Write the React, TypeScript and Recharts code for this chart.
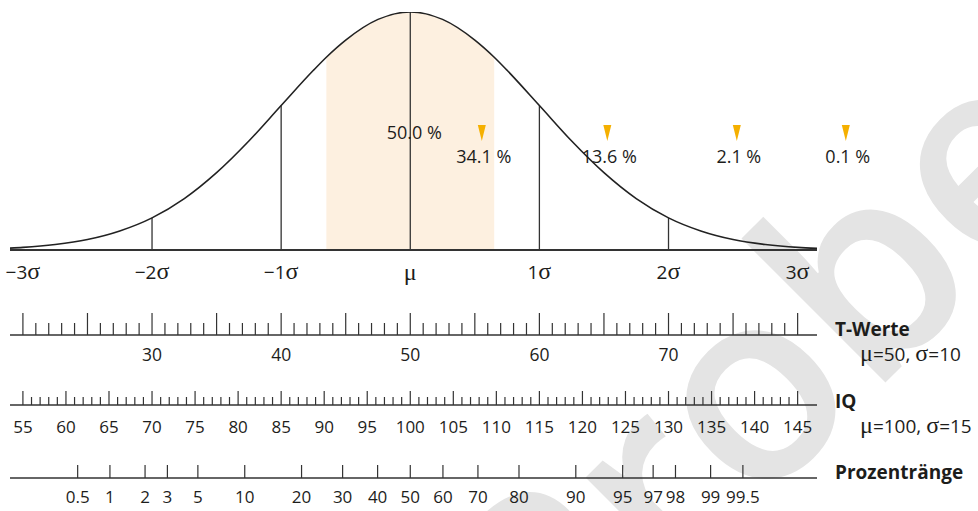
import React from 'react';
import { ComposedChart, Area, Line, XAxis, YAxis, ReferenceLine, ReferenceDot } from 'recharts';

// ---- data ----
// normal curve: position in σ units and relative height (peak = 1)
const CURVE_Z = [-3.1, -3, -2.75, -2.5, -2.25, -2, -1.75, -1.5, -1.25, -1, -0.75, -0.65, -0.5, -0.25, 0, 0.25, 0.5, 0.65, 0.75, 1, 1.25, 1.5, 1.75, 2, 2.25, 2.5, 2.75, 3, 3.15];
const CURVE_H = [0.008, 0.011, 0.023, 0.044, 0.08, 0.135, 0.216, 0.325, 0.458, 0.607, 0.755, 0.81, 0.882, 0.969, 1, 0.969, 0.882, 0.81, 0.755, 0.607, 0.458, 0.325, 0.216, 0.135, 0.08, 0.044, 0.023, 0.011, 0.007];
// shaded middle band
const BAND_FROM = -0.65;
const BAND_TO = 0.65;
// vertical lines under the curve
const SIGMA_LINES = [-2, -1, 0, 1, 2];
// σ axis
const SIGMA_TICKS = [-3, -2, -1, 0, 1, 2, 3];
const SIGMA_LABELS = ['\u22123', '\u22122', '\u22121', 'μ', '1', '2', '3'];
// area percentages
const CENTER_LABEL = '50.0 %';
const PCT_Z = [0.554, 1.526, 2.529, 3.373];
const PCT_LABELS = ['34.1 %', '13.6 %', '2.1 %', '0.1 %'];
// T-Werte
const T_MIN = 20;
const T_MAX = 80;
const T_LABELS = [30, 40, 50, 60, 70];
// IQ
const IQ_MIN = 55;
const IQ_MAX = 145;
const IQ_LABELS = [55, 60, 65, 70, 75, 80, 85, 90, 95, 100, 105, 110, 115, 120, 125, 130, 135, 140, 145];
// Prozentränge: tick position (σ units) and label
const PR_Z = [-2.576, -2.326, -2.054, -1.881, -1.645, -1.282, -0.842, -0.524, -0.253, 0, 0.253, 0.524, 0.842, 1.282, 1.645, 1.881, 2.054, 2.326, 2.576];
const PR_LABELS = ['0.5', '1', '2', '3', '5', '10', '20', '30', '40', '50', '60', '70', '80', '90', '95', '97', '98', '99', '99.5'];

// ---- derived tables ----
const curveData = CURVE_Z.map((z, i) => ({ z, h: CURVE_H[i] }));
const bandData = curveData.filter((d) => d.z >= BAND_FROM - 1e-9 && d.z <= BAND_TO + 1e-9);
const heightAt = (z: number) => curveData.find((d) => Math.abs(d.z - z) < 1e-9)?.h ?? 0;
const range = (a: number, b: number) => Array.from({ length: b - a + 1 }, (_, i) => a + i);
const T_TICKS = range(T_MIN, T_MAX);
const IQ_TICKS = range(IQ_MIN, IQ_MAX);
const tData = T_TICKS.map((t) => ({ t, v: 0 }));
const iqData = IQ_TICKS.map((q) => ({ q, v: 0 }));
const prData = PR_Z.map((p) => ({ p, v: 0 }));

// ---- styles ----
const SANS = "'Open Sans', 'Noto Sans', sans-serif";
const SERIF = "'Liberation Serif', 'DejaVu Serif', serif";
const INK = '#1d1d1b';
const LINE = '#333333';
const BAND = '#fdf0e0';
const MARK = '#f5b000';
const Z_DOMAIN: [number, number] = [-3.1, 3.15];
const T_DOMAIN: [number, number] = [50 + 10 * Z_DOMAIN[0], 50 + 10 * Z_DOMAIN[1]];
const IQ_DOMAIN: [number, number] = [100 + 15 * Z_DOMAIN[0], 100 + 15 * Z_DOMAIN[1]];

const SigmaTick = (p: any) => {
  const i = SIGMA_TICKS.indexOf(p.payload.value);
  const lab = SIGMA_LABELS[i];
  if (lab === 'μ') {
    return (
      <text x={p.x} y={p.y + 30} textAnchor="middle" fontFamily={SERIF} fontSize={24} fill={INK}>μ</text>
    );
  }
  return (
    <text x={p.x} y={p.y + 29} textAnchor="middle" fill={INK}>
      <tspan fontFamily={SANS} fontSize={19}>{lab}</tspan>
      <tspan fontFamily={SERIF} fontSize={24}>σ</tspan>
    </text>
  );
};

const TTick = (p: any) => {
  const v = p.payload.value;
  const major = v % 5 === 0;
  return (
    <g>
      <line x1={p.x} x2={p.x} y1={p.y} y2={p.y - (major ? 22 : 12)} stroke={LINE} strokeWidth={1.2} />
      {T_LABELS.includes(v) && (
        <text x={p.x} y={p.y + 26} textAnchor="middle" fontFamily={SANS} fontSize={17.5} fill={INK}>{v}</text>
      )}
    </g>
  );
};

const IQTick = (p: any) => {
  const v = p.payload.value;
  const major = v % 5 === 0;
  return (
    <g>
      <line x1={p.x} x2={p.x} y1={p.y} y2={p.y - (major ? 14 : 8)} stroke={LINE} strokeWidth={1.2} />
      {IQ_LABELS.includes(v) && (
        <text x={p.x} y={p.y + 28} textAnchor="middle" fontFamily={SANS} fontSize={17} fill={INK}>{v}</text>
      )}
    </g>
  );
};

const PRTick = (p: any) => {
  const i = PR_Z.indexOf(p.payload.value);
  return (
    <g>
      <line x1={p.x} x2={p.x} y1={p.y} y2={p.y - 13} stroke={LINE} strokeWidth={1.2} />
      <text x={p.x} y={p.y + 25} textAnchor="middle" fontFamily={SANS} fontSize={17} fill={INK}>{PR_LABELS[i]}</text>
    </g>
  );
};

const RightLabels = () => (
  <g fill={INK}>
    <text x={835} y={336} fontFamily={SANS} fontWeight={700} fontSize={19}>T-Werte</text>
    <text x={860} y={361}>
      <tspan fontFamily={SERIF} fontSize={24}>μ</tspan>
      <tspan fontFamily={SANS} fontSize={19}>=50, </tspan>
      <tspan fontFamily={SERIF} fontSize={24}>σ</tspan>
      <tspan fontFamily={SANS} fontSize={19}>=10</tspan>
    </text>
    <text x={835} y={408} fontFamily={SANS} fontWeight={700} fontSize={19}>IQ</text>
    <text x={860} y={433}>
      <tspan fontFamily={SERIF} fontSize={24}>μ</tspan>
      <tspan fontFamily={SANS} fontSize={19}>=100, </tspan>
      <tspan fontFamily={SERIF} fontSize={24}>σ</tspan>
      <tspan fontFamily={SANS} fontSize={19}>=15</tspan>
    </text>
    <text x={835} y={479} fontFamily={SANS} fontWeight={700} fontSize={19}>Prozentränge</text>
  </g>
);

const axisCommon = {
  type: 'number' as const,
  allowDataOverflow: true,
  interval: 0 as const,
  tickLine: false,
  tickSize: 0,
  tickMargin: 0,
};

export default function App() {
  return (
    <div style={{ position: 'absolute', left: 0, top: 0, width: 978, height: 511, background: '#fff', overflow: 'hidden' }}>
      <svg width={978} height={511} style={{ position: 'absolute', left: 0, top: 0 }}>
        <text x={556} y={712} transform="rotate(-45 556 712)" fontFamily={SANS} fontWeight={600} fontSize={268} fill="#e4e4e4">Probe</text>
      </svg>
      <div style={{ position: 'absolute', left: 0, top: 0 }}>
        <ComposedChart width={978} height={511} margin={{ top: 12, right: 161, bottom: 0, left: 10 }}>
          <XAxis xAxisId="a_sigma" dataKey="z" {...axisCommon} domain={Z_DOMAIN} ticks={SIGMA_TICKS}
            height={85} axisLine={{ stroke: LINE, strokeWidth: 2 }} tick={SigmaTick} />
          <XAxis xAxisId="b_t" dataKey="t" {...axisCommon} domain={T_DOMAIN} ticks={T_TICKS}
            height={70} axisLine={{ stroke: LINE, strokeWidth: 1.5 }} tick={TTick} />
          <XAxis xAxisId="c_iq" dataKey="q" {...axisCommon} domain={IQ_DOMAIN} ticks={IQ_TICKS}
            height={73} axisLine={{ stroke: LINE, strokeWidth: 1.5 }} tick={IQTick} />
          <XAxis xAxisId="d_pr" dataKey="p" {...axisCommon} domain={Z_DOMAIN} ticks={PR_Z}
            height={33} axisLine={{ stroke: LINE, strokeWidth: 1.5 }} tick={PRTick} />
          <YAxis yAxisId="y" type="number" domain={[0, 1]} allowDataOverflow hide />
          <Line xAxisId="b_t" yAxisId="y" data={tData} dataKey="v" stroke="none" dot={false} legendType="none" isAnimationActive={false} />
          <Line xAxisId="c_iq" yAxisId="y" data={iqData} dataKey="v" stroke="none" dot={false} legendType="none" isAnimationActive={false} />
          <Line xAxisId="d_pr" yAxisId="y" data={prData} dataKey="v" stroke="none" dot={false} legendType="none" isAnimationActive={false} />
          <Area xAxisId="a_sigma" yAxisId="y" data={bandData} dataKey="h" type="monotone" fill={BAND} fillOpacity={1} stroke="none" isAnimationActive={false} />
          {SIGMA_LINES.map((z) => (
            <ReferenceLine key={z} xAxisId="a_sigma" yAxisId="y" segment={[{ x: z, y: 0 }, { x: z, y: heightAt(z) }]} stroke={LINE} strokeWidth={1.3} />
          ))}
          <Line xAxisId="a_sigma" yAxisId="y" data={curveData} dataKey="h" type="monotone" stroke="#222" strokeWidth={1.6} dot={false} isAnimationActive={false} />
          <ReferenceDot xAxisId="a_sigma" yAxisId="y" x={0} y={0.466} r={0} ifOverflow="visible"
            shape={(p: any) => (
              <text x={p.cx + 4} y={p.cy} textAnchor="middle" fontFamily={SANS} fontSize={18} fill={INK}>{CENTER_LABEL}</text>
            )} />
          {PCT_Z.map((z, i) => (
            <ReferenceDot key={z} xAxisId="a_sigma" yAxisId="y" x={z} y={0.492} r={0} ifOverflow="visible"
              shape={(p: any) => (
                <g>
                  <polygon points={`${p.cx - 4},${p.cy - 8} ${p.cx + 4},${p.cy - 8} ${p.cx},${p.cy + 8}`} fill={MARK} />
                  <text x={p.cx + 2} y={p.cy + 30} textAnchor="middle" fontFamily={SANS} fontSize={18} fill={INK}>{PCT_LABELS[i]}</text>
                </g>
              )} />
          ))}
          <RightLabels />
        </ComposedChart>
      </div>
    </div>
  );
}
